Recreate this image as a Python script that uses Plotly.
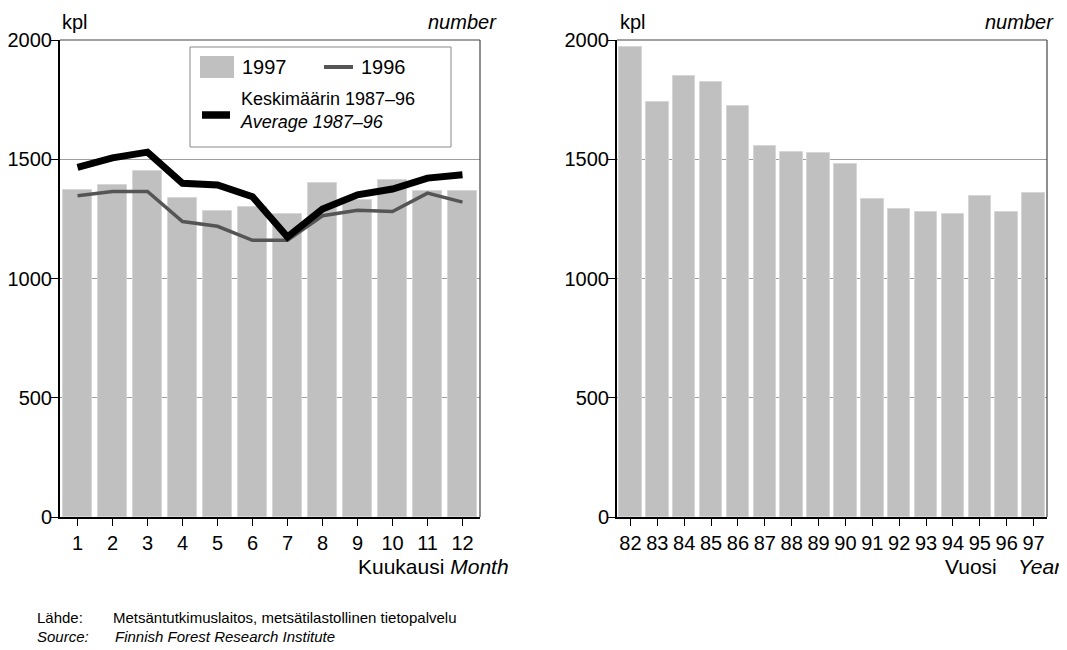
import plotly.graph_objects as go

# monthly data (left panel)
months = [1, 2, 3, 4, 5, 6, 7, 8, 9, 10, 11, 12]
val_1997 = [1371, 1393, 1449, 1338, 1281, 1300, 1271, 1400, 1329, 1413, 1367, 1367]
val_1996 = [1347, 1365, 1365, 1239, 1219, 1160, 1160, 1263, 1286, 1281, 1358, 1320]
avg_8796 = [1466, 1506, 1530, 1399, 1392, 1343, 1174, 1291, 1351, 1375, 1421, 1435]

# yearly data (right panel)
years = [82, 83, 84, 85, 86, 87, 88, 89, 90, 91, 92, 93, 94, 95, 96, 97]
yearly = [1972, 1742, 1851, 1823, 1725, 1556, 1529, 1526, 1480, 1334,
          1293, 1278, 1270, 1347, 1280, 1358]

# page body has an 8px margin, figure sits at (8, 8)
W, H = 1059, 642
FONT = "Liberation Sans, Arial, sans-serif"
BAR = "#c0c0c0"

def px(x):
    return (x - 8) / W

def py(y):
    return 1 - (y - 8) / H

fig = go.Figure()

fig.add_trace(go.Bar(x=months, y=val_1997, width=0.84, marker=dict(color=BAR, line=dict(color="#d6d6d6", width=1)),
                     xaxis="x", yaxis="y", showlegend=False))
fig.add_trace(go.Scatter(x=months, y=val_1996, mode="lines", line=dict(color="#555555", width=3.5),
                         xaxis="x", yaxis="y", showlegend=False))
fig.add_trace(go.Scatter(x=months, y=avg_8796, mode="lines", line=dict(color="black", width=7),
                         xaxis="x", yaxis="y", showlegend=False))
fig.add_trace(go.Bar(x=years, y=yearly, width=0.84, marker=dict(color=BAR, line=dict(color="#d6d6d6", width=1)),
                     xaxis="x2", yaxis="y2", showlegend=False))

ydom = [py(517), py(40)]
common_y = dict(range=[0, 2000], tickvals=[0, 500, 1000, 1500, 2000], showgrid=True,
                gridcolor="#9e9e9e", gridwidth=1, showline=True, linecolor="black", linewidth=2,
                ticks="outside", ticklen=7, tickcolor="black", zeroline=False, automargin=False,
                ticklabelstandoff=-5,
                tickfont=dict(family=FONT, size=20, color="black"), fixedrange=True)
common_x = dict(showgrid=False, showline=True, linecolor="black", linewidth=2, ticks="outside",
                ticklen=7, tickcolor="black", dtick=1, zeroline=False, automargin=False,
                tickfont=dict(family=FONT, size=20, color="black"), fixedrange=True)

fig.update_layout(
    width=W, height=H,
    margin=dict(l=0, r=0, t=0, b=0),
    paper_bgcolor="white", plot_bgcolor="white",
    font=dict(family=FONT, color="black"),
    bargap=0,
    xaxis=dict(domain=[px(60), px(480)], range=[0.5, 12.5], anchor="y", tickvals=months, **common_x),
    yaxis=dict(domain=ydom, anchor="x", **common_y),
    xaxis2=dict(domain=[px(617), px(1047)], range=[81.5, 97.5], anchor="y2", tickvals=years, **common_x),
    yaxis2=dict(domain=ydom, anchor="x2", **common_y),
)

# frame top/right
for xr, yr in [("x domain", "y domain"), ("x2 domain", "y2 domain")]:
    fig.add_shape(type="line", xref=xr, yref=yr, x0=0, x1=1, y0=1, y1=1, line=dict(color="#444444", width=1.2))
    fig.add_shape(type="line", xref=xr, yref=yr, x0=1, x1=1, y0=0, y1=1, line=dict(color="#444444", width=1.2))

# legend box (left panel)
fig.add_shape(type="rect", xref="paper", yref="paper", x0=px(190), x1=px(451), y0=py(147), y1=py(47),
              line=dict(color="#888888", width=1), fillcolor="white")
fig.add_shape(type="rect", xref="paper", yref="paper", x0=px(200), x1=px(234), y0=py(78), y1=py(56),
              line=dict(width=0), fillcolor=BAR)
fig.add_shape(type="line", xref="paper", yref="paper", x0=px(324), x1=px(353), y0=py(67), y1=py(67),
              line=dict(color="#555555", width=4))
fig.add_shape(type="line", xref="paper", yref="paper", x0=px(202), x1=px(230), y0=py(115), y1=py(115),
              line=dict(color="black", width=7.5))

def note(text, x, y, xanchor="left", size=20, italic=False, align="left"):
    fig.add_annotation(text=f"<i>{text}</i>" if italic else text, x=px(x), y=py(y), xref="paper", yref="paper",
                       xanchor=xanchor, yanchor="middle", showarrow=False, align=align,
                       font=dict(family=FONT, size=size, color="black"))

note("1997", 240, 67, size=20)
note("1996", 359, 67, size=20)
note("Keskimäärin 1987–96<br><i>Average 1987–96</i>", 238, 110, size=18)

note("kpl", 60, 22, size=20)
note("number", 499, 22, xanchor="right", size=20, italic=True)
note("kpl", 618, 22, size=20)
note("number", 983, 22, size=20, italic=True)

note("Kuukausi <i>Month</i>", 511, 566, xanchor="right", size=21)
note("Vuosi", 943, 566, size=21)
note("Year", 1016, 566, size=21, italic=True)

note("Lähde:", 35, 617, size=15)
note("Metsäntutkimuslaitos, metsätilastollinen tietopalvelu", 111, 617, size=15)
note("Source:", 35, 636, size=15, italic=True)
note("Finnish Forest Research Institute", 113, 636, size=15, italic=True)

fig.write_html("out.html")
